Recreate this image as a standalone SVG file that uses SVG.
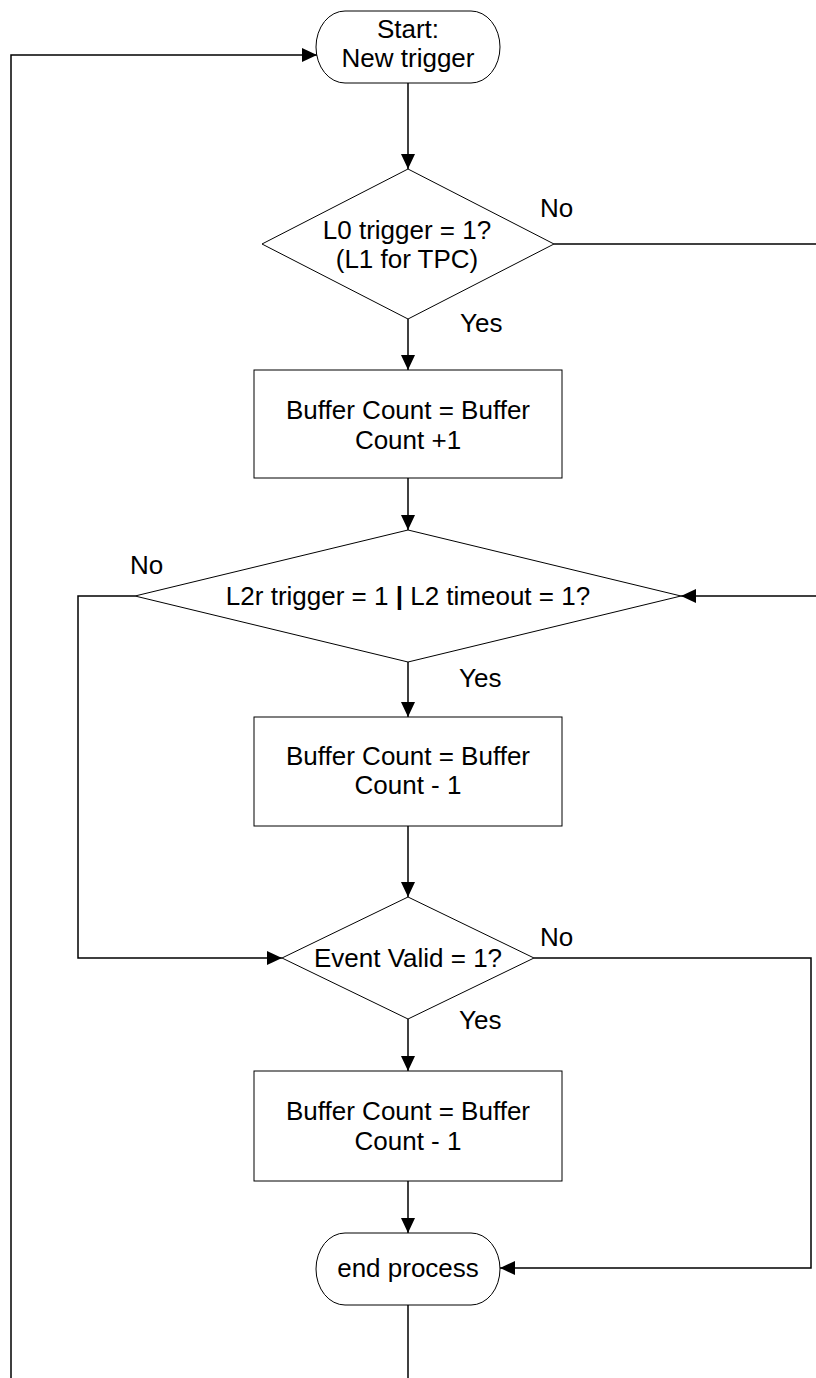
<svg xmlns="http://www.w3.org/2000/svg" width="816" height="1378" viewBox="0 0 816 1378">
  <style>
    .shape { fill: #ffffff; stroke: #000000; stroke-width: 1; }
    .conn { fill: none; stroke: #000000; stroke-width: 1.5; }
    .lbl { font-family: "Liberation Sans", Arial, sans-serif; font-size: 26px; fill: #000000; }
    .mid { text-anchor: middle; }
  </style>
  <defs>
    <marker id="arrow" markerUnits="userSpaceOnUse" markerWidth="15" markerHeight="14" refX="15" refY="7" orient="auto">
      <path d="M0,0 L15,7 L0,14 z" fill="#000000"/>
    </marker>
  </defs>

  <!-- connectors -->
  <g id="connectors">
    <path class="conn" d="M408,1305 L408,1378"/>
    <path class="conn" d="M11,1378 L11,55 L317,55" marker-end="url(#arrow)"/>
    <path class="conn" d="M408,83 L408,169" marker-end="url(#arrow)"/>
    <path class="conn" d="M554,244 L816,244"/>
    <path class="conn" d="M408,319 L408,370" marker-end="url(#arrow)"/>
    <path class="conn" d="M408,478 L408,530" marker-end="url(#arrow)"/>
    <path class="conn" d="M816,596 L681,596" marker-end="url(#arrow)"/>
    <path class="conn" d="M135,596 L78,596 L78,958 L282,958" marker-end="url(#arrow)"/>
    <path class="conn" d="M408,662 L408,717" marker-end="url(#arrow)"/>
    <path class="conn" d="M408,826 L408,897" marker-end="url(#arrow)"/>
    <path class="conn" d="M534,958 L811,958 L811,1268 L500,1268" marker-end="url(#arrow)"/>
    <path class="conn" d="M408,1019 L408,1071" marker-end="url(#arrow)"/>
    <path class="conn" d="M408,1181 L408,1233" marker-end="url(#arrow)"/>
  </g>

  <!-- start terminator -->
  <g id="start">
    <rect class="shape" x="316" y="11" width="184" height="72" rx="29" ry="36"/>
    <text class="lbl mid" x="408" y="38">Start:</text>
    <text class="lbl mid" x="408" y="67">New trigger</text>
  </g>

  <!-- L0 trigger decision -->
  <g id="decision-l0">
    <polygon class="shape" points="408,169 554,244 408,319 262,244"/>
    <text class="lbl mid" x="407" y="239">L0 trigger = 1?</text>
    <text class="lbl mid" x="407" y="268">(L1 for TPC)</text>
    <text class="lbl" x="540" y="217">No</text>
    <text class="lbl" x="460" y="332">Yes</text>
  </g>

  <!-- increment buffer count -->
  <g id="buffer-inc">
    <rect class="shape" x="254" y="370" width="308" height="108"/>
    <text class="lbl mid" x="408" y="419">Buffer Count = Buffer</text>
    <text class="lbl mid" x="408" y="449">Count +1</text>
  </g>

  <!-- L2r / L2 timeout decision -->
  <g id="decision-l2">
    <polygon class="shape" points="408,530 681,596 408,662 135,596"/>
    <text class="lbl mid" x="408" y="605">L2r trigger = 1 <tspan font-weight="bold">|</tspan> L2 timeout = 1?</text>
    <text class="lbl" x="130" y="574">No</text>
    <text class="lbl" x="459" y="687">Yes</text>
  </g>

  <!-- decrement after L2 -->
  <g id="buffer-dec-1">
    <rect class="shape" x="254" y="717" width="308" height="109"/>
    <text class="lbl mid" x="408" y="765">Buffer Count = Buffer</text>
    <text class="lbl mid" x="408" y="794">Count - 1</text>
  </g>

  <!-- event valid decision -->
  <g id="decision-valid">
    <polygon class="shape" points="408,897 534,958 408,1019 282,958"/>
    <text class="lbl mid" x="408" y="967">Event Valid = 1?</text>
    <text class="lbl" x="540" y="946">No</text>
    <text class="lbl" x="459" y="1029">Yes</text>
  </g>

  <!-- decrement after valid event -->
  <g id="buffer-dec-2">
    <rect class="shape" x="254" y="1071" width="308" height="110"/>
    <text class="lbl mid" x="408" y="1120">Buffer Count = Buffer</text>
    <text class="lbl mid" x="408" y="1150">Count - 1</text>
  </g>

  <!-- end terminator -->
  <g id="end">
    <rect class="shape" x="316" y="1233" width="184" height="72" rx="29" ry="36"/>
    <text class="lbl mid" x="408" y="1277">end process</text>
  </g>
</svg>
